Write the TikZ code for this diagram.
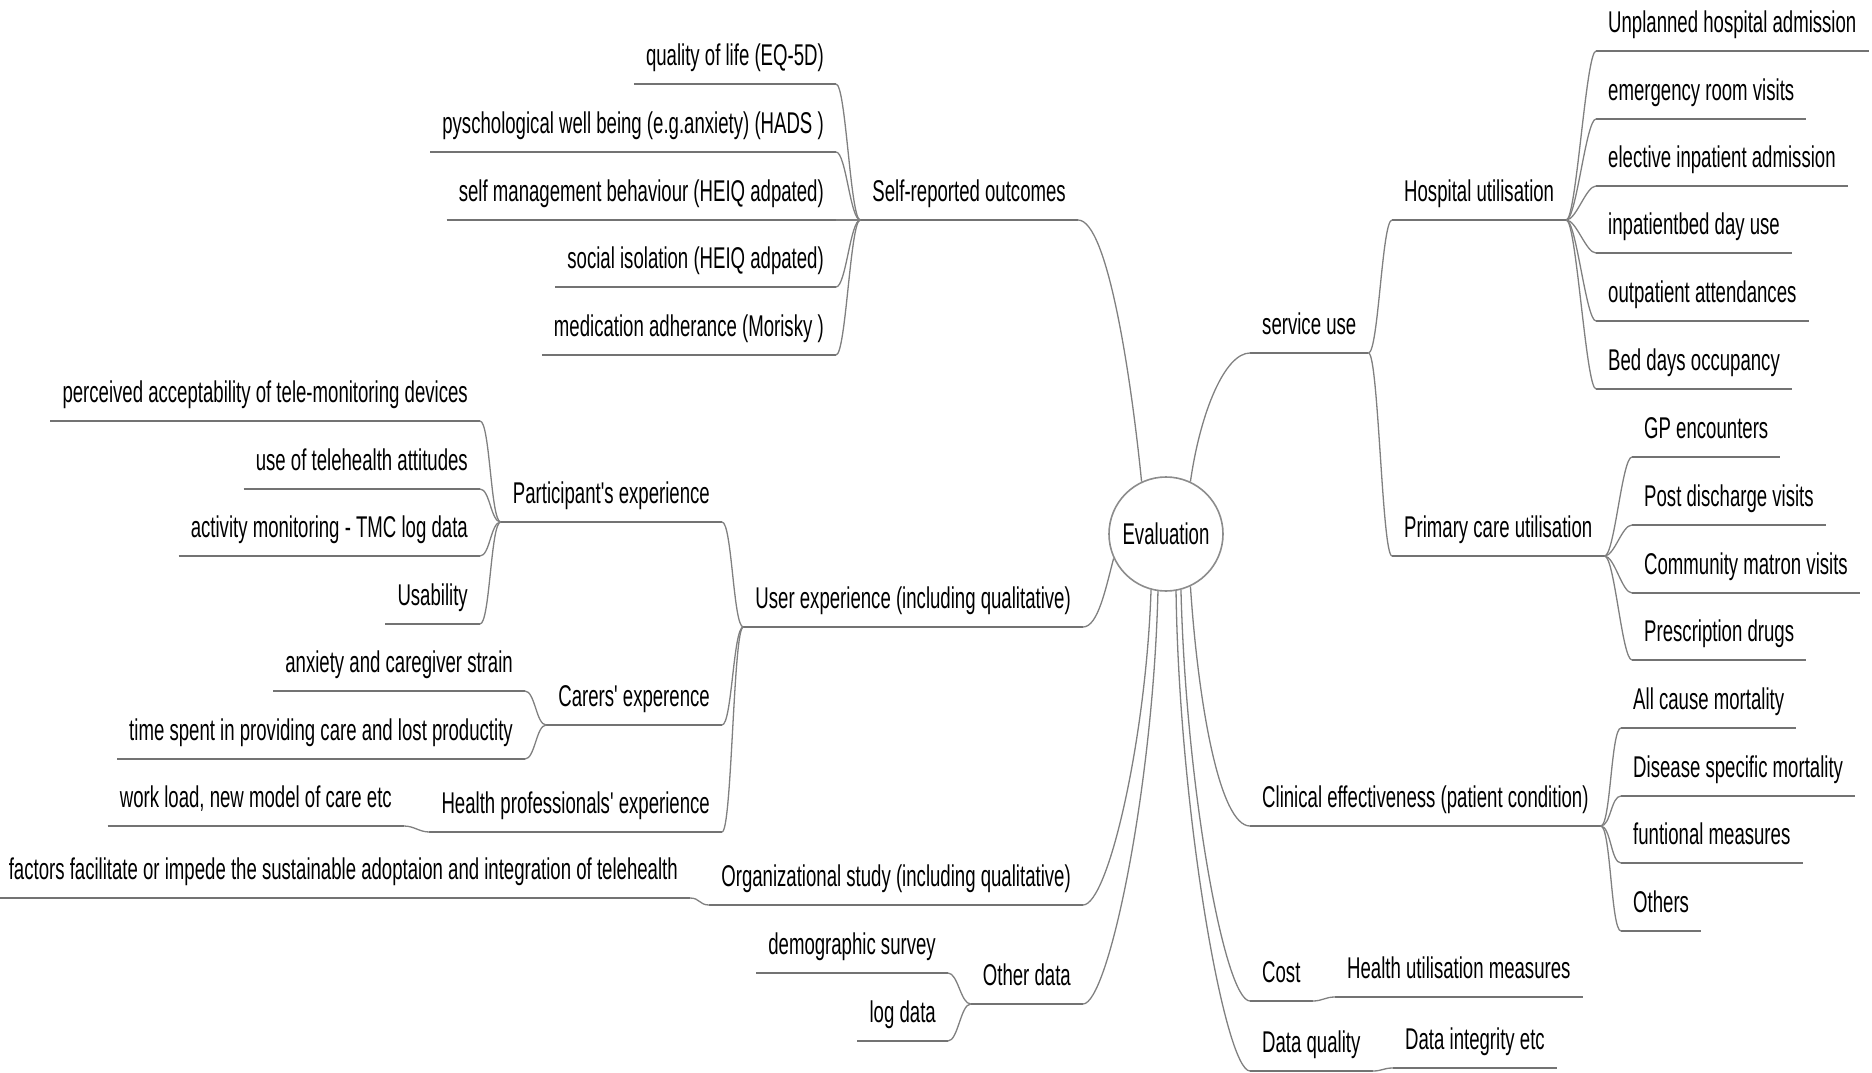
\documentclass[tikz,border=0pt]{standalone}
\usepackage{fontspec}
\setmainfont[FakeStretch=0.62,Ligatures=TeXOff]{Liberation Sans}
\begin{document}
\begin{tikzpicture}[x=1pt,y=-1pt,
    every node/.style={font=\fontsize{30}{36}\selectfont},
    topic/.style={inner xsep=12pt,inner ysep=11pt,text depth=7pt},
    hub/.style={circle,draw=black!45,line width=1.6pt,minimum size=114pt,inner sep=0pt},
    uline/.style={black!55,line width=2pt},
    conn/.style={black!50,line width=1.3pt}]
    \useasboundingbox (0,0) rectangle (1872,1073);

    % Centre
    \node[hub] (ev) at (1166,534) {Evaluation};

    % Self-reported outcomes
    \node[topic,anchor=south east] (self) at (1078,220) {Self-reported outcomes};
    \node[topic,anchor=south east] (qol) at (836,84) {quality of life (EQ-5D)};
    \node[topic,anchor=south east] (psych) at (836,152) {pyschological well being (e.g.anxiety) (HADS )};
    \node[topic,anchor=south east] (selfm) at (836,220) {self management behaviour (HEIQ adpated)};
    \node[topic,anchor=south east] (social) at (836,287) {social isolation (HEIQ adpated)};
    \node[topic,anchor=south east] (medic) at (836,355) {medication adherance (Morisky )};

    % User experience
    \node[topic,anchor=south east] (user) at (1083,627) {User experience (including qualitative)};
    \node[topic,anchor=south east] (part) at (722,522) {Participant's experience};
    \node[topic,anchor=south east] (accept) at (480,421) {perceived acceptability of tele-monitoring devices};
    \node[topic,anchor=south east] (attit) at (480,489) {use of telehealth attitudes};
    \node[topic,anchor=south east] (activ) at (480,556) {activity monitoring - TMC log data};
    \node[topic,anchor=south east] (usab) at (480,624) {Usability};
    \node[topic,anchor=south east] (carer) at (722,725) {Carers' experence};
    \node[topic,anchor=south east] (strain) at (525,691) {anxiety and caregiver strain};
    \node[topic,anchor=south east] (prodty) at (525,759) {time spent in providing care and lost productity};
    \node[topic,anchor=south east] (hprof) at (722,832) {Health professionals' experience};
    \node[topic,anchor=south east] (wload) at (404,826) {work load, new model of care etc};

    % Organizational study and other data
    \node[topic,anchor=south east] (org) at (1083,905) {Organizational study (including qualitative)};
    \node[topic,anchor=south east] (factors) at (690,898) {factors facilitate or impede the sustainable adoptaion and integration of telehealth};
    \node[topic,anchor=south east] (other) at (1083,1004) {Other data};
    \node[topic,anchor=south east] (demog) at (948,973) {demographic survey};
    \node[topic,anchor=south east] (logd) at (948,1041) {log data};

    % Service use
    \node[topic,anchor=south west] (serv) at (1250,353) {service use};
    \node[topic,anchor=south west] (hosp) at (1392,220) {Hospital utilisation};
    \node[topic,anchor=south west] (unpl) at (1596,51) {Unplanned hospital admission};
    \node[topic,anchor=south west] (emerg) at (1596,119) {emergency room visits};
    \node[topic,anchor=south west] (elect) at (1596,186) {elective inpatient admission};
    \node[topic,anchor=south west] (bedday) at (1596,253) {inpatientbed day use};
    \node[topic,anchor=south west] (outp) at (1596,321) {outpatient attendances};
    \node[topic,anchor=south west] (occup) at (1596,389) {Bed days occupancy};
    \node[topic,anchor=south west] (prim) at (1392,556) {Primary care utilisation};
    \node[topic,anchor=south west] (gp) at (1632,457) {GP encounters};
    \node[topic,anchor=south west] (postd) at (1632,525) {Post discharge visits};
    \node[topic,anchor=south west] (matron) at (1632,593) {Community matron visits};
    \node[topic,anchor=south west] (presc) at (1632,660) {Prescription drugs};

    % Clinical effectiveness
    \node[topic,anchor=south west] (clin) at (1250,826) {Clinical effectiveness (patient condition)};
    \node[topic,anchor=south west] (allcm) at (1621,728) {All cause mortality};
    \node[topic,anchor=south west] (dism) at (1621,796) {Disease specific mortality};
    \node[topic,anchor=south west] (func) at (1621,863) {funtional measures};
    \node[topic,anchor=south west] (others) at (1621,931) {Others};

    % Cost and data quality
    \node[topic,anchor=south west] (cost) at (1250,1001) {Cost};
    \node[topic,anchor=south west] (hutil) at (1335,997) {Health utilisation measures};
    \node[topic,anchor=south west] (dqual) at (1250,1071) {Data quality};
    \node[topic,anchor=south west] (dint) at (1393,1068) {Data integrity etc};

    % Underlines
    \foreach \n in {self,qol,psych,selfm,social,medic,user,part,accept,attit,activ,usab,
        carer,strain,prodty,hprof,wload,org,factors,other,demog,logd,serv,hosp,unpl,emerg,
        elect,bedday,outp,occup,prim,gp,postd,matron,presc,clin,allcm,dism,func,others,
        cost,hutil,dqual,dint}
        \draw[uline] (\n.south west) -- (\n.south east);

    % Branches from the centre
    \draw[conn] (ev.115) .. controls +(-10,-100) and +(30,0) .. (self.south east);
    \draw[conn] (ev.205) .. controls +(-8,30) and +(15,0) .. (user.south east);
    \draw[conn] (ev.255) .. controls +(-5,150) and +(25,0) .. (org.south east);
    \draw[conn] (ev.262) .. controls +(-5,200) and +(25,0) .. (other.south east);
    \draw[conn] (ev.65) .. controls +(10,-70) and +(-25,0) .. (serv.south west);
    \draw[conn] (ev.295) .. controls +(8,120) and +(-30,0) .. (clin.south west);
    \draw[conn] (ev.285) .. controls +(5,200) and +(-25,0) .. (cost.south west);
    \draw[conn] (ev.280) .. controls +(3,220) and +(-25,0) .. (dqual.south west);

    % Left-hand sub-branches
    \foreach \p/\c in {self/qol,self/psych,self/selfm,self/social,self/medic,user/part,
        user/carer,user/hprof,part/accept,part/attit,part/activ,part/usab,carer/strain,
        carer/prodty,hprof/wload,org/factors,other/demog,other/logd}
        \draw[conn] (\p.south west) .. controls +(-10,0) and +(10,0) .. (\c.south east);

    % Right-hand sub-branches
    \foreach \p/\c in {serv/hosp,serv/prim,hosp/unpl,hosp/emerg,hosp/elect,hosp/bedday,
        hosp/outp,hosp/occup,prim/gp,prim/postd,prim/matron,prim/presc,clin/allcm,
        clin/dism,clin/func,clin/others,cost/hutil,dqual/dint}
        \draw[conn] (\p.south east) .. controls +(10,0) and +(-10,0) .. (\c.south west);
\end{tikzpicture}
\end{document}
